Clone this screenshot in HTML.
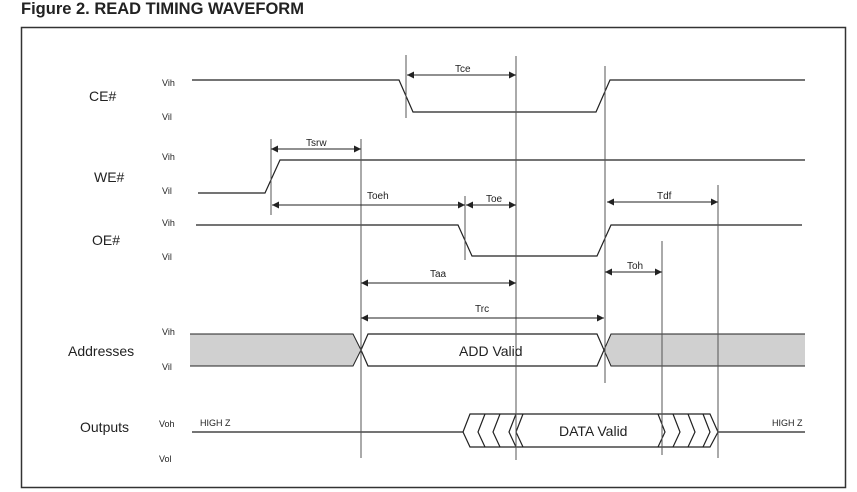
<!DOCTYPE html>
<html><head><style>
body{margin:0;background:#fff;width:857px;height:492px;overflow:hidden}
svg{display:block}
text{font-family:"Liberation Sans",Arial,sans-serif;fill:#222}
</style></head><body>
<svg width="857" height="492" viewBox="0 0 857 492">
<defs>
<marker id="a" viewBox="0 0 10 10" refX="10" refY="5" markerWidth="12" markerHeight="7" orient="auto-start-reverse" markerUnits="userSpaceOnUse"><path d="M0,0L10,5L0,10z" fill="#222"/></marker>
</defs>
<text x="21" y="14" font-size="16.5" font-weight="bold">Figure 2. READ TIMING WAVEFORM</text>
<rect x="21.5" y="27.5" width="824" height="460" fill="none" stroke="#333" stroke-width="1.5"/>
<g font-size="14">
<text x="89" y="101">CE#</text>
<text x="94" y="182">WE#</text>
<text x="92" y="245">OE#</text>
<text x="68" y="356">Addresses</text>
<text x="80" y="432">Outputs</text>
</g>
<g font-size="9">
<text x="162" y="86">Vih</text><text x="162" y="120">Vil</text>
<text x="162" y="160">Vih</text><text x="162" y="194">Vil</text>
<text x="162" y="226">Vih</text><text x="162" y="260">Vil</text>
<text x="162" y="335">Vih</text><text x="162" y="370">Vil</text>
<text x="159" y="427">Voh</text><text x="159" y="462">Vol</text>
<text x="200" y="426">HIGH Z</text><text x="772" y="426">HIGH Z</text>
</g>
<g font-size="10">
<text x="455" y="72">Tce</text>
<text x="306" y="146">Tsrw</text>
<text x="367" y="199">Toeh</text>
<text x="486" y="202">Toe</text>
<text x="657" y="199">Tdf</text>
<text x="627" y="269">Toh</text>
<text x="430" y="277">Taa</text>
<text x="475" y="312">Trc</text>
</g>
<g fill="#d0d0d0" stroke="#222" stroke-width="1">
<path d="M190,334H353L361,350L353,366H190"/>
<path d="M805,334H611L604,350L611,366H805"/>
</g>
<g fill="none" stroke="#222" stroke-width="1.2">
<path d="M192,80H399L413,112H596L610,80H805"/>
<path d="M198,193H265L280,160H805"/>
<path d="M196,225H458L472,256H597L611,225H802"/>
<path d="M361,350L368,334H597L604,350L597,366H368Z"/>
<path d="M192,432H463M718,432H805"/>
<path d="M463,432L470,414H710L718,432L710,447H470Z"/>
<path d="M485,414L478,432L485,447M500,414L493,432L500,447M516,414L509,432L516,447"/>
<path d="M523,414L516,432L523,447"/>
<path d="M658,414L665,432L658,447M673,414L680,432L673,447M688,414L695,432L688,447M703,414L710,432L703,447"/>
</g>
<g stroke="#555" stroke-width="1">
<path d="M406,55V118M516,56V460M605,66V383M361,139V458M271,139V215M465,196V260M718,185V458M662,241V455"/>
</g>
<g stroke="#222" stroke-width="1" marker-start="url(#a)" marker-end="url(#a)">
<path d="M407,75H516"/>
<path d="M271,149H361"/>
<path d="M272,205H465"/>
<path d="M466,205H516"/>
<path d="M607,202H718"/>
<path d="M605,272H662"/>
<path d="M361,283H516"/>
<path d="M361,318H604"/>
</g>
<text x="459" y="356" font-size="14">ADD Valid</text>
<text x="559" y="436" font-size="14">DATA Valid</text>
</svg>
</body></html>
